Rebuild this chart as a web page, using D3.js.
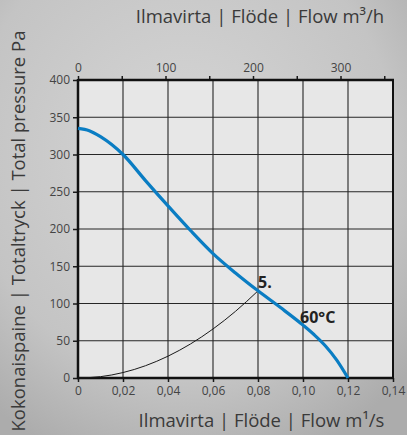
<!DOCTYPE html>
<html>
<head>
<meta charset="utf-8">
<script src="https://cdn.jsdelivr.net/npm/d3@7"></script>
<style>
  html, body { margin: 0; padding: 0; background: #c8c8c8; }
  svg { display: block; }
  text { font-family: "Open Sans", "Noto Sans", sans-serif; }
</style>
</head>
<body>
<div id="chart"></div>
<script>
// ---- Data ----
const fanFlow = [0, 0.005, 0.01, 0.02, 0.03, 0.04, 0.05, 0.06, 0.07, 0.08, 0.09, 0.10, 0.105, 0.11, 0.115, 0.12];
const fanPressure = [335, 332, 324, 300, 265, 231, 198, 167, 141, 117, 94.5, 71, 58, 43, 24, 0];
const sysFlow = [0, 0.01, 0.02, 0.03, 0.04, 0.05, 0.06, 0.07, 0.08];
const sysPressure = [0, 1.8, 7.3, 16.5, 29.3, 45.7, 65.8, 89.5, 117];
const xTicks = [0, 0.02, 0.04, 0.06, 0.08, 0.10, 0.12, 0.14];
const xTickLabels = ["0", "0,02", "0,04", "0,06", "0,08", "0,10", "0,12", "0,14"];
const yTicks = [0, 50, 100, 150, 200, 250, 300, 350, 400];
const topTicks = [0, 50, 100, 150, 200, 250, 300, 350];
const topTickLabels = ["0", "", "100", "", "200", "", "300", ""];
const titleTop = "Ilmavirta | Flöde | Flow m³/h";
const titleBottom = "Ilmavirta | Flöde | Flow m¹/s";
const titleLeft = "Kokonaispaine | Totaltryck | Total pressure Pa";
const curveLabel = "60°C";
const pointLabel = "5.";

// ---- Layout ----
const W = 407, H = 435;
const L = 78, R = 393, T = 80, B = 378;

const svg = d3.select("#chart").append("svg").attr("width", W).attr("height", H);
const defs = svg.append("defs");
const grad = defs.append("radialGradient").attr("id", "bg")
  .attr("cx", "45%").attr("cy", "35%").attr("r", "75%");
grad.append("stop").attr("offset", "0%").attr("stop-color", "#d6d6d6");
grad.append("stop").attr("offset", "70%").attr("stop-color", "#c4c4c4");
grad.append("stop").attr("offset", "100%").attr("stop-color", "#acacac");
svg.append("rect").attr("width", W).attr("height", H).attr("fill", "url(#bg)");

const x = d3.scaleLinear().domain([0, 0.14]).range([L, R]);
const y = d3.scaleLinear().domain([0, 400]).range([B, T]);
const xTop = d3.scaleLinear().domain([0, 360]).range([L, R]);

// plot area
svg.append("rect").attr("x", L).attr("y", T).attr("width", R - L).attr("height", B - T)
  .attr("fill", "#e7e7e7");

// grid
const grid = svg.append("g").attr("stroke", "#262626").attr("stroke-width", 1.1);
grid.selectAll("line.v").data(xTicks.filter(d => d > 0 && d < 0.14)).join("line")
  .attr("x1", d => x(d)).attr("x2", d => x(d))
  .attr("y1", T).attr("y2", B);
grid.selectAll("line.h").data(yTicks.filter(d => d > 0 && d < 400)).join("line")
  .attr("y1", d => y(d)).attr("y2", d => y(d))
  .attr("x1", L).attr("x2", R);

// axes
const fmtX = d => xTickLabels[xTicks.indexOf(d)];
const gx = svg.append("g").attr("transform", `translate(0,${B})`)
  .call(d3.axisBottom(x).tickValues(xTicks).tickFormat(fmtX).tickSize(4).tickSizeOuter(0));
const gy = svg.append("g").attr("transform", `translate(${L},0)`)
  .call(d3.axisLeft(y).tickValues(yTicks).tickSize(5).tickSizeOuter(0));
const gt = svg.append("g").attr("transform", `translate(0,${T})`)
  .call(d3.axisTop(xTop).tickValues(topTicks).tickFormat(d => topTickLabels[topTicks.indexOf(d)]).tickSize(4).tickSizeOuter(0));

[gx, gy, gt].forEach(g => {
  g.select(".domain").remove();
  g.selectAll(".tick line").attr("stroke", "#1a1a1a").attr("stroke-width", 1.5);
  g.selectAll(".tick text").attr("fill", "#444").style("font-size", "12px")
    .style("font-family", "'Open Sans', sans-serif");
});
gx.selectAll(".tick text").attr("dy", "0.85em");
gy.selectAll(".tick text").attr("x", -8);
gt.selectAll(".tick text").attr("dy", "-0.1em");

// frame
const frame = svg.append("g").attr("stroke", "#111").attr("fill", "none");
frame.append("line").attr("x1", L).attr("x2", R + 1).attr("y1", T).attr("y2", T).attr("stroke-width", 2.5);
frame.append("line").attr("x1", R).attr("x2", R).attr("y1", T).attr("y2", B).attr("stroke-width", 2);
frame.append("line").attr("x1", L).attr("x2", L).attr("y1", T - 1).attr("y2", B + 1).attr("stroke-width", 2.5);
frame.append("line").attr("x1", L - 1).attr("x2", R + 1).attr("y1", B).attr("y2", B).attr("stroke-width", 2.5);

// system curve
const sysLine = d3.line().x((d, i) => x(sysFlow[i])).y((d, i) => y(sysPressure[i])).curve(d3.curveMonotoneX);
svg.append("path").datum(sysPressure).attr("d", sysLine)
  .attr("fill", "none").attr("stroke", "#1a1a1a").attr("stroke-width", 1);

// fan curve
const fanLine = d3.line().x((d, i) => x(fanFlow[i])).y((d, i) => y(fanPressure[i])).curve(d3.curveMonotoneX);
svg.append("path").datum(fanPressure).attr("d", fanLine)
  .attr("fill", "none").attr("stroke", "#0a7dc3").attr("stroke-width", 3.2);

// labels on chart
svg.append("text").attr("x", x(0.08)).attr("y", 287.5)
  .attr("fill", "#222").style("font-size", "16px").style("font-weight", "bold").text(pointLabel);
svg.append("text").attr("x", 300).attr("y", 322.5)
  .attr("fill", "#222").style("font-size", "16px").style("font-weight", "bold").text(curveLabel);

// titles
svg.append("text").attr("x", 260).attr("y", 23).attr("text-anchor", "middle")
  .attr("fill", "#3a3a3a").style("font-size", "18.5px").text(titleTop);
svg.append("text").attr("x", 261.5).attr("y", 427).attr("text-anchor", "middle")
  .attr("fill", "#3a3a3a").style("font-size", "18.5px").text(titleBottom);
svg.append("text").attr("transform", "translate(25,231) rotate(-90)").attr("text-anchor", "middle")
  .attr("fill", "#3a3a3a").style("font-size", "18.5px").text(titleLeft);
</script>
</body>
</html>
